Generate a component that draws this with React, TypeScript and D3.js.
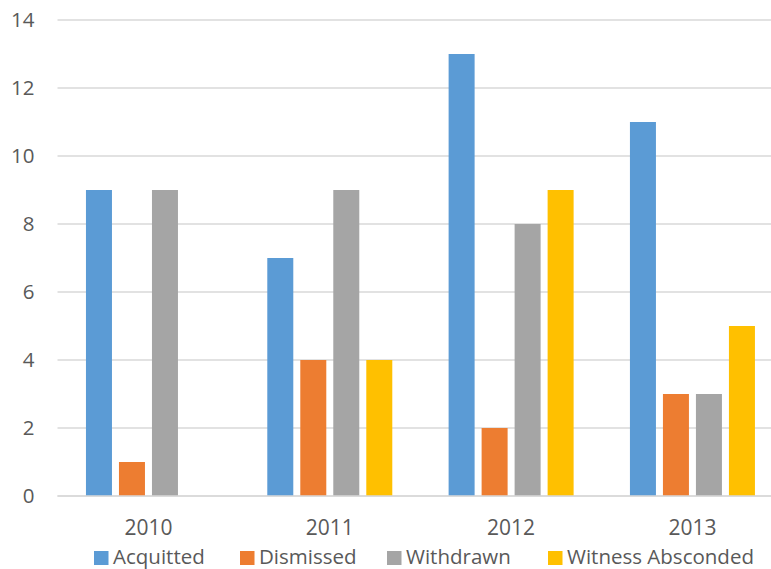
import React from "react";
import * as d3 from "d3";

const years = ["2010", "2011", "2012", "2013"];
const seriesNames = ["Acquitted", "Dismissed", "Withdrawn", "Witness Absconded"];
const acquitted = [9, 7, 13, 11];
const dismissed = [1, 4, 2, 3];
const withdrawn = [9, 9, 8, 3];
const witnessAbsconded = [0, 4, 9, 5];
const yTicks = [0, 2, 4, 6, 8, 10, 12, 14];
const colors = ["#5B9BD5", "#ED7D31", "#A5A5A5", "#FFC000"];

const W = 771;
const H = 569;
const FONT = "'Open Sans', 'Noto Sans', sans-serif";

export default function App() {
  const series = [acquitted, dismissed, withdrawn, witnessAbsconded];
  const x = d3.scaleBand<string>().domain(years).range([57.8, 783.1]).paddingInner(0).paddingOuter(0);
  const groupW = 125;
  const inner = d3.scaleBand<string>().domain(seriesNames).range([0, groupW]).paddingInner(7 / 33).paddingOuter(0);
  const y = d3.scaleLinear().domain([0, 14]).range([496, 20]);
  const legendX = [94, 240, 387, 548];

  return (
    <svg width={W} height={H} style={{ position: "absolute", left: 0, top: 0 }}>
      <rect width={W} height={H} fill="#fff" />
      {yTicks.map((t) => (
        <g key={t}>
          <line x1={57.5} x2={W} y1={y(t)} y2={y(t)} stroke="#d9d9d9" strokeWidth={1.5} />
          <text x={34.5} y={y(t)} dy="0.36em" textAnchor="end" fontFamily={FONT} fontSize={20.5} fill="#595959">
            {t}
          </text>
        </g>
      ))}
      {years.map((yr, i) => {
        const gx = (x(yr) as number) + (x.bandwidth() - groupW) / 2;
        return (
          <g key={yr}>
            {series.map((s, j) =>
              s[i] > 0 ? (
                <rect
                  key={j}
                  x={gx + (inner(seriesNames[j]) as number)}
                  y={y(s[i])}
                  width={inner.bandwidth()}
                  height={y(0) - y(s[i])}
                  fill={colors[j]}
                />
              ) : null
            )}
            <text x={(x(yr) as number) + x.bandwidth() / 2} y={535} textAnchor="middle" fontFamily={FONT} fontSize={21} fill="#595959">
              {yr}
            </text>
          </g>
        );
      })}
      <line x1={57.5} x2={W} y1={y(0)} y2={y(0)} stroke="#d9d9d9" strokeWidth={1.5} />
      {seriesNames.map((n, j) => (
        <g key={n}>
          <rect x={legendX[j]} y={551} width={14.5} height={14} fill={colors[j]} />
          <text x={legendX[j] + 19} y={563.5} fontFamily={FONT} fontSize={20.5} fill="#595959">
            {n}
          </text>
        </g>
      ))}
    </svg>
  );
}
